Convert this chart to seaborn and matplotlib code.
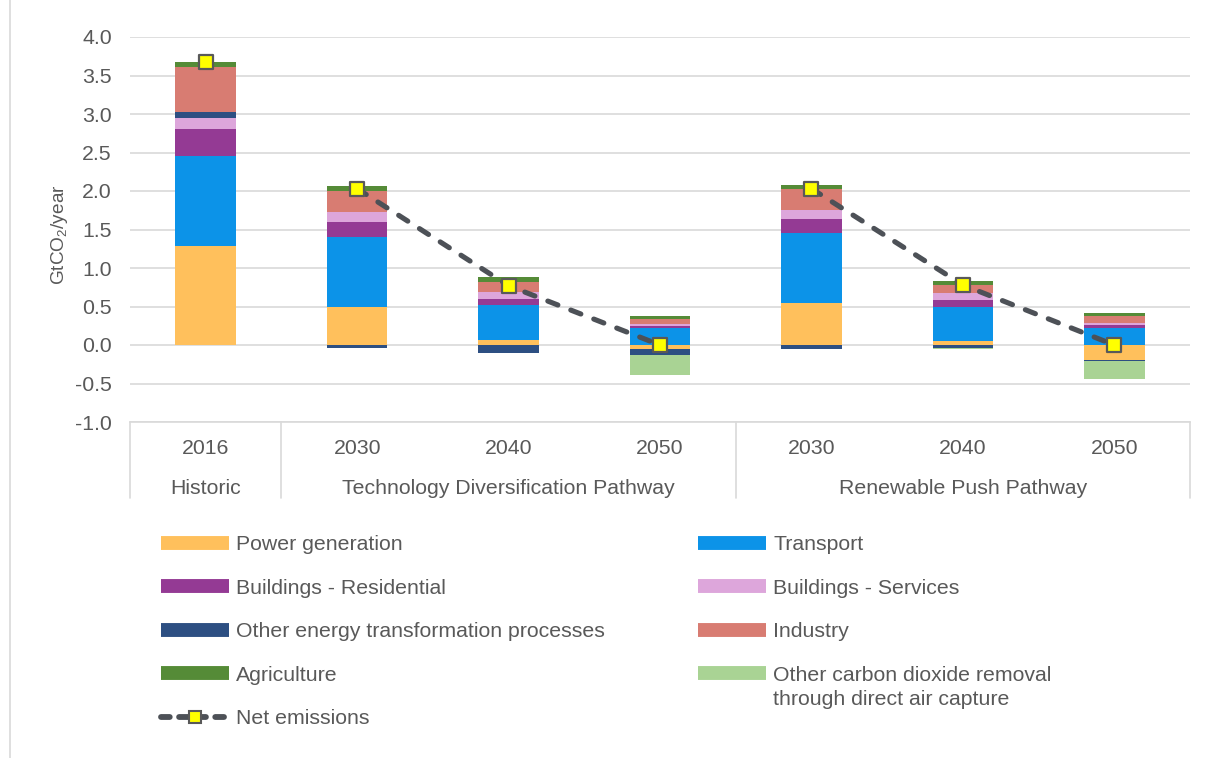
import numpy as np
import pandas as pd
import seaborn as sns
import matplotlib
matplotlib.use("Agg")
from matplotlib import pyplot as plt
from matplotlib.lines import Line2D

# categories (unique keys) and their axis labels
categories = ["H2016", "TD2030", "TD2040", "TD2050", "RP2030", "RP2040", "RP2050"]
year_labels = ["2016", "2030", "2040", "2050", "2030", "2040", "2050"]
group_labels = ["Historic", "Technology Diversification Pathway", "Renewable Push Pathway"]

# GtCO2/year by sector
power_generation = [1.285, 0.50, 0.07, -0.05, 0.55, 0.05, -0.195]
transport = [1.165, 0.90, 0.45, 0.22, 0.90, 0.45, 0.225]
buildings_residential = [0.35, 0.20, 0.08, 0.03, 0.18, 0.09, 0.04]
buildings_services = [0.15, 0.13, 0.09, 0.02, 0.12, 0.08, 0.025]
other_energy = [0.07, -0.04, -0.10, -0.08, -0.05, -0.04, -0.01]
industry = [0.59, 0.27, 0.13, 0.07, 0.28, 0.11, 0.085]
agriculture = [0.06, 0.07, 0.06, 0.04, 0.05, 0.05, 0.045]
direct_air_capture = [0.0, 0.0, -0.005, -0.26, 0.0, -0.01, -0.235]
net_emissions = [3.67, 2.03, 0.77, 0.0, 2.03, 0.78, 0.0]

sectors = [
    ("Power generation", power_generation, "#FFC05C"),
    ("Transport", transport, "#0C93E8"),
    ("Buildings - Residential", buildings_residential, "#943A94"),
    ("Buildings - Services", buildings_services, "#DDA6DB"),
    ("Other energy transformation processes", other_energy, "#2D4F82"),
    ("Industry", industry, "#D87C72"),
    ("Agriculture", agriculture, "#558B37"),
    ("Other carbon dioxide removal", direct_air_capture, "#A9D394"),
]

TXT = "#595959"
GRID = "#D9D9D9"
FS = 15.3

sns.set_theme(style="white")
plt.rcParams["font.family"] = ["Liberation Sans", "DejaVu Sans"]
plt.rcParams["axes.unicode_minus"] = False
plt.rcParams["mathtext.fontset"] = "custom"
plt.rcParams["mathtext.rm"] = "Liberation Sans"

W, H = 1214, 758
fig = plt.figure(figsize=(W / 100, H / 100), dpi=100)
ax = fig.add_axes([130 / W, 1 - 422 / H, 1060 / W, 385 / H])

pos_base = np.zeros(len(categories))
neg_base = np.zeros(len(categories))
for name, vals, color in sectors:
    vals = np.array(vals)
    bottom = np.where(vals >= 0, pos_base, neg_base)
    df = pd.DataFrame({"cat": categories, "val": vals})
    sns.barplot(data=df, x="cat", y="val", order=categories, bottom=bottom,
                color=color, saturation=1, width=0.4, errorbar=None,
                linewidth=0, ax=ax)
    pos_base = pos_base + np.where(vals > 0, vals, 0)
    neg_base = neg_base + np.where(vals < 0, vals, 0)

# net emissions: dashed line within each pathway, markers everywhere
net = pd.DataFrame({"x": np.arange(len(categories)), "y": net_emissions})
for seg in [[1, 2, 3], [4, 5, 6]]:
    sns.lineplot(data=net.iloc[seg], x="x", y="y", ax=ax, color="#4D5157",
                 linewidth=3.7, linestyle=(0, (2.1, 2.7)), dash_capstyle="round",
                 zorder=4, sort=False)
sns.scatterplot(data=net, x="x", y="y", ax=ax, marker="s", s=110,
                color="#FFFF00", edgecolor="#595959", linewidth=1.6, zorder=5)

ax.set_xlim(-0.5, 6.5)
ax.set_ylim(-1, 4)
ax.set_yticks(np.arange(-1, 4.01, 0.5))
ax.set_yticklabels([f"{v:.1f}" for v in np.arange(-1, 4.01, 0.5)])
ax.yaxis.grid(True, color=GRID, linewidth=1.2)
ax.set_axisbelow(True)
ax.tick_params(axis="y", length=0, pad=13, labelsize=FS, labelcolor=TXT)
ax.set_xticks([])
ax.set_xlabel("")
ax.set_ylabel("GtCO$_2$/year", fontsize=13.7, color=TXT)
ax.yaxis.set_label_coords(-0.057, 0.486)
for s in ["left", "right", "top"]:
    ax.spines[s].set_visible(False)
ax.spines["bottom"].set_color(GRID)
ax.spines["bottom"].set_linewidth(1.2)

# multi-level category axis
tr = ax.get_xaxis_transform()
box_h = 76 / 385
for xb in [-0.5, 0.5, 3.5, 6.5]:
    ax.plot([xb, xb], [0, -box_h], transform=tr, color=GRID, lw=1.2, clip_on=False)
for i, lab in enumerate(year_labels):
    ax.text(i, -26 / 385, lab, transform=tr, ha="center", va="center", fontsize=FS, color=TXT)
for xc, lab in zip([0, 2, 5], group_labels):
    ax.text(xc, -66 / 385, lab, transform=tr, ha="center", va="center", fontsize=FS, color=TXT)

# legend in two columns
def patch(c):
    return Line2D([], [], color=c, lw=10, solid_capstyle="butt")

handles = {name: patch(c) for name, _, c in sectors}
net_handle = Line2D([], [], color="#4D5157", lw=4.2, linestyle=(0, (1.5, 1.6)),
                    dash_capstyle="round", marker="s", markersize=9,
                    markerfacecolor="#FFFF00", markeredgecolor="#595959", markeredgewidth=1.5)
left = ["Power generation", "Buildings - Residential",
        "Other energy transformation processes", "Agriculture"]
right = ["Transport", "Buildings - Services", "Industry",
         "Other carbon dioxide removal"]
leg_kw = dict(loc="upper left", frameon=False, fontsize=FS, labelcolor=TXT,
              handlelength=3.2, handletextpad=0.33, labelspacing=1.155,
              borderpad=0, borderaxespad=0)
fig.legend([handles[n] for n in left] + [net_handle], left + ["Net emissions"],
           bbox_to_anchor=(161 / W, 1 - 535 / H), **leg_kw)
leg_r = fig.legend([handles[n] for n in right], right,
                   bbox_to_anchor=(698 / W, 1 - 535 / H), **leg_kw)
# second line of the last legend label, aligned under the first
fig.canvas.draw()
fig.text(0, 0, "through direct air capture", fontsize=FS, color=TXT)
last = leg_r.get_texts()[-1]
bb = last.get_window_extent()
fig.texts[-1].set_position((bb.x0 / W, (bb.y0 - 20) / H))

fig.add_artist(Line2D([10 / W, 10 / W], [0, 1], color=GRID, lw=1.2))

fig.savefig("out.png", dpi=100)
